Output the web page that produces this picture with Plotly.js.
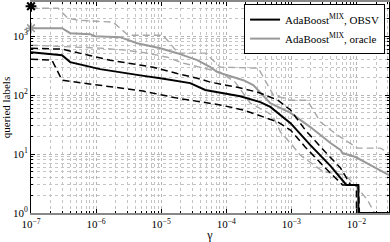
<!DOCTYPE html>
<html>
<head>
<meta charset="utf-8">
<script src="https://cdn.plot.ly/plotly-3.0.1.min.js"></script>
<style>html,body{margin:0;padding:0;background:#fff;}#chart{width:390px;height:242px;}</style>
</head>
<body>
<div id="chart"></div>
<script>
// OBSV mean
const obsvX = [1e-7, 3.0e-7, 4.0e-7, 1.15e-6, 5.7e-6, 9.7e-6, 2.79e-5, 4.75e-5, 1.64e-4, 3.33e-4, 4.75e-4, 7.5e-4, 9.7e-4, 1.96e-3, 3.98e-3, 7.0e-3, 1.07e-2, 1.07e-2, 3.16e-2];
const obsvY = [535, 476, 363, 276, 210, 194, 160, 122, 96, 76, 63, 42, 33.5, 14.2, 6.3, 3, 3, 1, 1];
// OBSV upper bound
const obsvUpX = [1e-7, 3.0e-7, 1.64e-6, 3.33e-6, 7.5e-6, 1.76e-5, 3.58e-5, 5.7e-5, 1.48e-4, 3.05e-4, 6.2e-4, 9.7e-4, 1.64e-3, 3.33e-3, 5.7e-3, 8.1e-3, 1.07e-2, 1.11e-2, 3.16e-2];
const obsvUpY = [626, 602, 392, 349, 298, 232, 194, 166, 136, 112, 82, 56, 25.5, 10.8, 5.8, 3, 3, 1, 1];
// OBSV lower bound
const obsvLoX = [1e-7, 2.1e-7, 3.0e-7, 1.64e-6, 5.27e-6, 1.76e-5, 4.45e-5, 8.1e-5, 1.83e-4, 3.7e-4, 6.2e-4, 9.7e-4, 1.64e-3, 3.33e-3, 6.1e-3, 1.0e-2, 1.0e-2];
const obsvLoY = [407, 392, 179, 137, 117, 89, 76, 68, 56, 42, 35, 25.5, 13.1, 5.8, 3, 3, 1];
// oracle mean
const oraX = [1e-7, 3.0e-7, 4.0e-7, 8.1e-7, 9.7e-7, 2.34e-6, 4.27e-6, 9.7e-6, 1.76e-5, 2.79e-5, 3.58e-5, 5.7e-5, 7.3e-5, 1.04e-4, 1.83e-4, 2.6e-4, 3.7e-4, 4.75e-4, 9.7e-4, 1.96e-3, 3.98e-3, 5.7e-3, 6.1e-3, 9.7e-3, 1.64e-2, 3.16e-2];
const oraY = [1367, 1367, 1125, 1081, 1000, 962, 761, 626, 515, 424, 392, 298, 245, 218, 179, 148, 100, 73, 50, 28.7, 15.4, 11.7, 10.4, 8.9, 6.5, 4.4];
// oracle upper bound
const oraUpX = [1e-7, 2.6e-7, 3.7e-7, 5.3e-7, 1.83e-6, 3.1e-6, 1.07e-5, 1.83e-5, 4.75e-5, 8.1e-5, 3.1e-4, 5.3e-4, 9.7e-4, 1.76e-3, 2.79e-3, 5.1e-3, 1.04e-2, 2.34e-2, 3.16e-2];
const oraUpY = [2985, 2985, 2020, 1866, 1727, 1040, 1040, 515, 515, 298, 287, 100, 82, 82, 35, 21, 12.6, 12.6, 10.4];
// oracle lower bound
const oraLoX = [1e-7, 1.15e-6, 2.79e-6, 6.1e-6, 1.24e-5, 2.18e-5, 8.1e-5, 1.37e-4, 2.34e-4, 5.1e-4, 6.8e-4, 9.7e-4, 1.37e-3, 3.1e-3, 6.8e-3, 1.04e-2, 1.48e-2, 1.89e-2, 3.16e-2];
const oraLoY = [703, 626, 579, 515, 440, 349, 245, 166, 73, 46, 23.6, 15.4, 9.6, 5.0, 4.4, 2.65, 1.66, 1, 1];
// start markers
const startX = [1e-7];
const obsvStartY = [3220];
const oraStartY = [1367];

const xTickVals = [1e-7, 1e-6, 1e-5, 1e-4, 1e-3, 1e-2];
const xTickText = ['10<sup>−7</sup>', '10<sup>−6</sup>', '10<sup>−5</sup>', '10<sup>−4</sup>', '10<sup>−3</sup>', '10<sup>−2</sup>'];
const yTickVals = [1, 10, 100, 1000];
const yTickText = ['10<sup>0</sup>', '10<sup>1</sup>', '10<sup>2</sup>', '10<sup>3</sup>'];

const legendNames = ['AdaBoost<sup>MIX</sup>, OBSV', 'AdaBoost<sup>MIX</sup>, oracle'];

const BLACK = '#000000';
const GRAY = '#999999';
const LGRAY = '#a8a8a8';

const traces = [
  {x: oraUpX, y: oraUpY, mode: 'lines', line: {color: LGRAY, width: 1.4, dash: '7px,4px'}, showlegend: false, hoverinfo: 'skip'},
  {x: oraLoX, y: oraLoY, mode: 'lines', line: {color: LGRAY, width: 1.4, dash: '7px,4px'}, showlegend: false, hoverinfo: 'skip'},
  {x: oraX, y: oraY, mode: 'lines', line: {color: GRAY, width: 2}, name: legendNames[1], showlegend: false},
  {x: obsvUpX, y: obsvUpY, mode: 'lines', line: {color: BLACK, width: 1.5, dash: '7px,4px'}, showlegend: false, hoverinfo: 'skip'},
  {x: obsvLoX, y: obsvLoY, mode: 'lines', line: {color: BLACK, width: 1.5, dash: '7px,4px'}, showlegend: false, hoverinfo: 'skip'},
  {x: obsvX, y: obsvY, mode: 'lines', line: {color: BLACK, width: 2}, name: legendNames[0], showlegend: true},
  {x: oraX.slice(0,1), y: oraY.slice(0,1), mode: 'lines', line: {color: GRAY, width: 2}, name: legendNames[1], showlegend: true, visible: true},
  {x: startX, y: oraStartY, mode: 'markers', marker: {symbol: 'asterisk-open', size: 9, color: GRAY, line: {color: GRAY, width: 1.5}}, showlegend: false, cliponaxis: false},
  {x: startX, y: obsvStartY, mode: 'markers', marker: {symbol: 'asterisk-open', size: 9, color: BLACK, line: {color: BLACK, width: 2}}, showlegend: false, cliponaxis: false}
];

const gridStyle = {showgrid: true, gridcolor: '#b5b5b5', griddash: 'dot', gridwidth: 1};

const layout = {
  width: 390, height: 242,
  margin: {l: 31, r: 1, t: 2, b: 29},
  paper_bgcolor: '#fff', plot_bgcolor: '#fff',
  font: {family: 'Liberation Serif, Times New Roman, serif', size: 11, color: '#000'},
  showlegend: true,
  xaxis: Object.assign({
    type: 'log', range: [-7, -1.5],
    tickvals: xTickVals, ticktext: xTickText,
    ticks: 'inside', ticklen: 4, tickcolor: '#000', tickwidth: 1,
    showline: true, linecolor: '#888', linewidth: 2, mirror: 'ticks',
    zeroline: false,
    tickfont: {size: 11},
    title: {text: 'γ', font: {size: 12}, standoff: 4},
    minor: {dtick: 'D1', showgrid: true, gridcolor: '#c4c4c4', griddash: 'dot', gridwidth: 1, ticks: 'inside', ticklen: 2, tickcolor: '#000'}
  }, gridStyle),
  yaxis: Object.assign({
    type: 'log', range: [0, 3.58],
    tickvals: yTickVals, ticktext: yTickText,
    ticks: 'inside', ticklen: 4, tickcolor: '#000', tickwidth: 1,
    showline: true, linecolor: '#000', linewidth: 1, mirror: 'ticks',
    zeroline: false,
    tickfont: {size: 11},
    title: {text: 'queried labels', font: {size: 11}, standoff: 2},
    minor: {dtick: 'D1', showgrid: true, gridcolor: '#c4c4c4', griddash: 'dot', gridwidth: 1, ticks: 'inside', ticklen: 2, tickcolor: '#000'}
  }, gridStyle),
  legend: {
    x: 0.989, y: 0.99, xanchor: 'right', yanchor: 'top',
    bgcolor: '#fff', bordercolor: '#000', borderwidth: 1,
    font: {size: 11}, itemwidth: 30, tracegroupgap: 0
  }
};

Plotly.newPlot('chart', traces, layout, {displayModeBar: false, staticPlot: true});
</script>
</body>
</html>
